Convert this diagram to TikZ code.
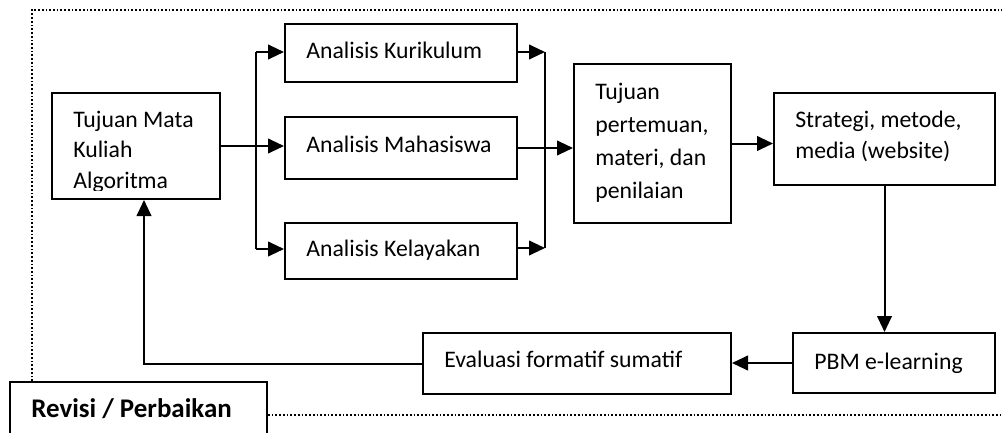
\documentclass[tikz,border=0pt]{standalone}
\usepackage{fontspec}
\setmainfont{Carlito}
\usepackage{tikz}
\usetikzlibrary{arrows.meta}
\tikzset{>={Triangle[length=12pt,width=11pt]},font=\fontsize{17.8}{23}\selectfont}
\tikzset{kotak/.style={draw,line width=1.5pt,inner xsep=16pt,inner ysep=0pt,align=flush left,text depth=0pt},
  garis/.style={line width=1.1pt,dash pattern=on 1.3pt off 1.5pt}}

\begin{document}
\begin{tikzpicture}[x=0.75pt,y=-0.75pt,line width=1.5pt]
\useasboundingbox (0,0) rectangle (1003,432);

\node[kotak,text width=94pt,minimum height=79.5pt,text height=13pt,text depth=41.5pt] (tmk) at (136,146) {Tujuan Mata\\Kuliah\\Algoritma};
\node[kotak,text width=142pt,minimum height=43.5pt,text height=7.5pt] (kur) at (401,53) {Analisis Kurikulum};
\node[kotak,text width=142pt,minimum height=46.5pt,text height=6.5pt] (mhs) at (401,148) {Analisis Mahasiswa};
\node[kotak,text width=142pt,minimum height=42pt,text height=8.5pt] (kel) at (401,251) {Analisis Kelayakan};
\node[kotak,text width=85.75pt,minimum height=119.25pt,text height=13pt,text depth=79.75pt,font=\fontsize{17.8}{24.75}\selectfont] (tpm) at (652.5,143.5) {Tujuan\\pertemuan,\\materi, dan\\penilaian};
\node[kotak,text width=133.75pt,minimum height=69pt,text height=13pt,text depth=31pt,font=\fontsize{17.8}{23.25}\selectfont] (str) at (884.5,139) {Strategi, metode,\\media (website)};
\node[kotak,text width=119.5pt,minimum height=45pt,text height=9pt] (pbm) at (894,363) {PBM e-learning};
\node[kotak,text width=199pt,minimum height=45.75pt,text height=6.5pt] (eva) at (577,363.5) {Evaluasi formatif sumatif};
\node[kotak,text width=160.75pt,minimum height=40.5pt,text height=12pt,font=\fontsize{20.2}{24}\selectfont\bfseries] (rev) at (138.5,409) {Revisi / Perbaikan};

% teks yang terpotong di bawah
\fill[white] ([xshift=1.5pt,yshift=2pt]tmk.south west) rectangle ([xshift=-1.5pt,yshift=7pt]tmk.south east);

\coordinate (lt) at (256,52);
\coordinate (lb) at (256,249);
\coordinate (rt) at (545,52);
\coordinate (rb) at (545,248);

\path[->] (tmk.east) edge (tmk.east -| mhs.west);
\draw (lt) -- (lb);
\path[->] (lt) edge (lt -| kur.west);
\path[->] (lb) edge (lb -| kel.west);
\draw (rt) -- (rb);
\path[->] (rt -| kur.east) edge (rt);
\path[->] (rb -| kel.east) edge (rb);
\path[->] (mhs.east) edge (mhs.east -| tpm.west);
\path[->] (tpm.east) edge (tpm.east -| str.west);
\path[->] (str.south) edge (str.south |- pbm.north);
\path[->] (pbm.west) edge (pbm.west -| eva.east);
\draw[->] (eva.west) -| ([xshift=6pt]tmk.south);

\coordinate (fa) at (32,10);
\coordinate (fb) at (1002,10);
\coordinate (fc) at (1002,415);
\draw[garis] (fa |- rev.north) -- (fa) -- (fb);
\draw[garis] (rev.east |- fc) -- (fc);

\end{tikzpicture}
\end{document}
